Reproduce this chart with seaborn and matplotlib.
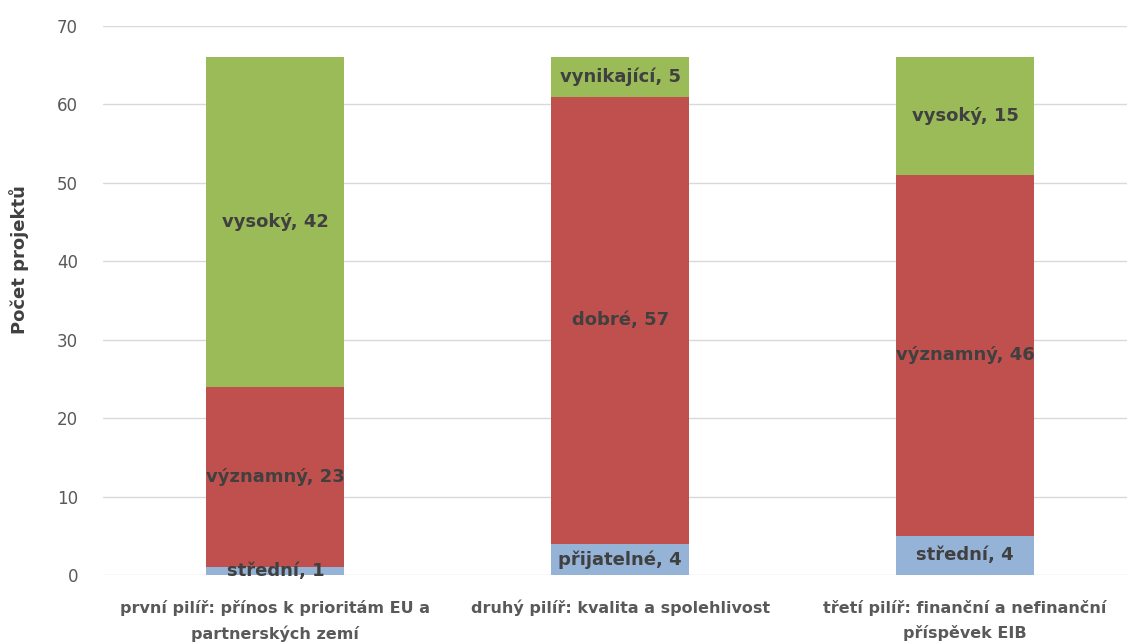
import matplotlib
matplotlib.use("Agg")
import matplotlib.pyplot as plt
import seaborn as sns
import pandas as pd
import numpy as np

categories = ["první pilíř: přínos k prioritám EU a\npartnerských zemí",
              "druhý pilíř: kvalita a spolehlivost",
              "třetí pilíř: finanční a nefinanční\npříspěvek EIB"]
bottom_vals = [1, 4, 5]
middle_vals = [23, 57, 46]
top_vals = [42, 5, 15]
bottom_labels = ["střední, 1", "přijatelné, 4", "střední, 4"]
middle_labels = ["významný, 23", "dobré, 57", "významný, 46"]
top_labels = ["vysoký, 42", "vynikající, 5", "vysoký, 15"]
yticks = [0, 10, 20, 30, 40, 50, 60, 70]

c_blue, c_red, c_green = "#95B3D7", "#C0504D", "#9BBB59"

sns.set_theme(style="white")
plt.rcParams['font.family'] = ['DejaVu Sans']

fig = plt.figure(figsize=(11.27, 6.42), dpi=100)
ax = fig.add_axes([103/1127, 67/642, 1024/1127, 549/642])

b = np.array(bottom_vals)
m = np.array(middle_vals)
t = np.array(top_vals)
df = pd.DataFrame({"cat": categories, "l1": b, "l2": b + m, "l3": b + m + t})

for col, color in [("l3", c_green), ("l2", c_red), ("l1", c_blue)]:
    sns.barplot(data=df, x="cat", y=col, color=color, width=0.4,
                saturation=1, ax=ax, order=categories, zorder=3,
                linewidth=0, edgecolor="none")

for i in range(3):
    for lbl, lo, hi in [(bottom_labels[i], 0, b[i]),
                        (middle_labels[i], b[i], b[i] + m[i]),
                        (top_labels[i], b[i] + m[i], b[i] + m[i] + t[i])]:
        ax.text(i, (lo + hi) / 2, lbl, ha="center", va="center",
                fontsize=13, fontweight="bold", color="#404040", zorder=5)

ax.set_xlim(-0.5, 2.47)
ax.set_ylim(0, 70)
ax.set_yticks(yticks)
ax.yaxis.grid(True, color="#D9D9D9", linewidth=1, zorder=0)
ax.set_axisbelow(True)
for s in ax.spines.values():
    s.set_visible(False)
ax.tick_params(axis="y", colors="#595959", labelsize=12, length=0, pad=18)
ax.tick_params(axis="x", colors="#595959", labelsize=11.5, length=0, pad=18)
for lab in ax.get_xticklabels():
    lab.set_fontweight("bold")
    lab.set_color("#595959")
    lab.set_linespacing(1.7)
ax.set_xlabel("")
ax.set_ylabel("Počet projektů", fontsize=13, fontweight="bold", color="#404040", labelpad=14)
ax.yaxis.set_label_coords(-0.072, 0.574)

fig.savefig("out.png", dpi=100)
